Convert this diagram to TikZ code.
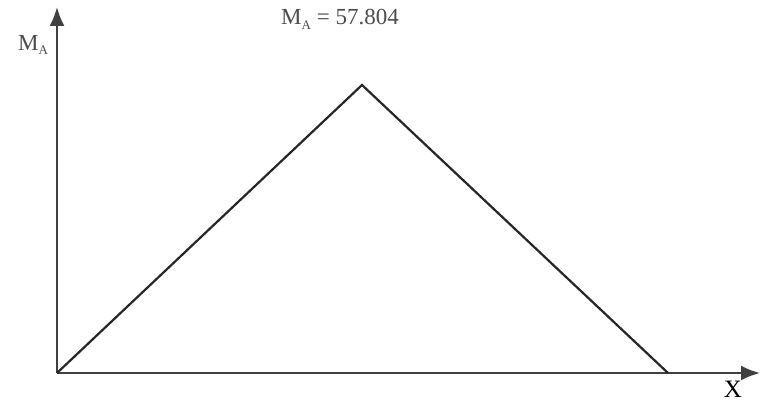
\documentclass[tikz,border=0pt]{standalone}
\usepackage{fontspec}
\setmainfont{Liberation Serif}
\usetikzlibrary{arrows.meta, positioning}

\newcommand{\subA}{\raisebox{-0.45ex}{\fontsize{13}{14}\selectfont A}}

\begin{document}
\begin{tikzpicture}[
    x=1pt, y=-1pt,
    every node/.style={font=\fontsize{23}{26}\selectfont, text=black!70, inner sep=0pt},
    axis/.style={-{Latex[length=19pt,width=15pt]}, line width=2.2pt, draw=black!75},
    moment/.style={line width=2.2pt, draw=black!85, line join=miter}
]
\useasboundingbox (0,0) rectangle (760,403);

\coordinate (origin) at (57,373);
\coordinate (ytip) at (57,7);
\coordinate (xtip) at (760,373);
\coordinate (peak) at (362,85);
\coordinate (zero) at (668,373);

\node (ylabel) at (33,45) {M\subA};
\node (peaklabel) at (340,19) {M\subA{} = 57.804};
\node[text=black, font=\fontsize{25}{28}\selectfont] (xlabel) at (733,389) {X};

% axes
\draw[axis] (origin) -- (ytip);
\draw[axis] (origin) -- (xtip);

% moment diagram
\draw[moment] (origin) -- (peak) -- (zero);

\end{tikzpicture}
\end{document}
